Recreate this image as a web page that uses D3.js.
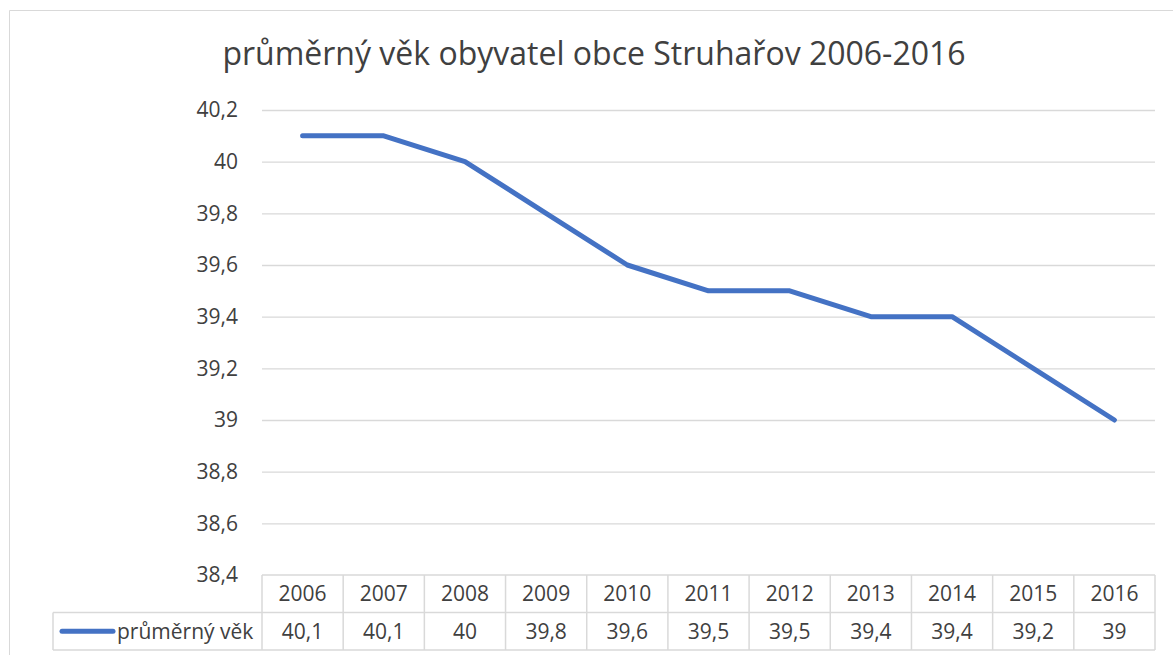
<!DOCTYPE html>
<html>
<head>
<meta charset="utf-8">
<script src="https://cdn.jsdelivr.net/npm/d3@7"></script>
<style>
  body { margin: 0; background: #fff; }
  svg { display: block; }
</style>
</head>
<body>
<div id="chart"></div>
<script>
// data
var years = ["2006", "2007", "2008", "2009", "2010", "2011", "2012", "2013", "2014", "2015", "2016"];
var avgAge = [40.1, 40.1, 40, 39.8, 39.6, 39.5, 39.5, 39.4, 39.4, 39.2, 39];
var yTicks = [38.4, 38.6, 38.8, 39, 39.2, 39.4, 39.6, 39.8, 40, 40.2];
var seriesName = "průměrný věk";
var title = "průměrný věk obyvatel obce Struhařov 2006-2016";

var width = 1173, height = 655;
var font = "'Open Sans', 'Noto Sans', sans-serif";
var textColor = "#404040";
var gridColor = "#d9d9d9";
var lineColor = "#4472c4";
var labelSize = "21px";

var plot = { left: 262, right: 1155, top: 110, bottom: 575 };
var rowH = 37.5;
var legendLeft = 53;

var cz = d3.formatLocale({ decimal: ",", thousands: " ", grouping: [3], currency: ["", " Kč"] });
var fmt = function(v) { return cz.format("~g")(+v.toFixed(1)); };

var svg = d3.select("#chart").append("svg")
    .attr("width", width)
    .attr("height", height)
    .style("font-family", font);

// chart area border (cropped at right and bottom in the reference)
svg.append("path")
    .attr("d", "M9.5," + (height + 1) + "V10.5H" + (width + 1))
    .attr("fill", "none")
    .attr("stroke", gridColor)
    .attr("stroke-width", 1);

svg.append("text")
    .attr("x", 594)
    .attr("y", 65)
    .attr("text-anchor", "middle")
    .attr("font-size", "32px")
    .attr("fill", textColor)
    .text(title);

var x = d3.scaleBand().domain(years).range([plot.left, plot.right]);
var y = d3.scaleLinear().domain([38.4, 40.2]).range([plot.bottom, plot.top]);

// gridlines + y labels
var yAxis = svg.append("g")
    .attr("transform", "translate(" + plot.left + ",0)")
    .call(d3.axisLeft(y).tickValues(yTicks).tickSize(-(plot.right - plot.left)).tickPadding(24).tickFormat(fmt));
yAxis.select(".domain").remove();
yAxis.selectAll(".tick line").attr("stroke", gridColor).attr("stroke-width", 1.3);
yAxis.selectAll(".tick text")
    .attr("fill", textColor)
    .attr("font-size", labelSize)
    .attr("font-family", font);
// bottom gridline is covered by the table top border
yAxis.selectAll(".tick").filter(function(d) { return d === 38.4; }).select("line").remove();

// series line
var line = d3.line()
    .x(function(d, i) { return x(years[i]) + x.bandwidth() / 2; })
    .y(function(d) { return y(d); });

svg.append("path")
    .datum(avgAge)
    .attr("d", line)
    .attr("fill", "none")
    .attr("stroke", lineColor)
    .attr("stroke-width", 5)
    .attr("stroke-linecap", "round")
    .attr("stroke-linejoin", "round");

// data table
var table = svg.append("g");
var row1 = plot.bottom, row2 = plot.bottom + rowH, row3 = plot.bottom + 2 * rowH;

table.selectAll(".vline")
    .data(years.concat(["end"]))
    .enter().append("line")
    .attr("x1", function(d) { return d === "end" ? plot.right : x(d); })
    .attr("x2", function(d) { return d === "end" ? plot.right : x(d); })
    .attr("y1", row1)
    .attr("y2", row3)
    .attr("stroke", gridColor)
    .attr("stroke-width", 1.5);

table.append("line").attr("x1", plot.left).attr("x2", plot.right).attr("y1", row1).attr("y2", row1)
    .attr("stroke", gridColor).attr("stroke-width", 1.5);
table.append("line").attr("x1", legendLeft).attr("x2", plot.right).attr("y1", row2).attr("y2", row2)
    .attr("stroke", gridColor).attr("stroke-width", 1.5);
table.append("line").attr("x1", legendLeft).attr("x2", plot.right).attr("y1", row3).attr("y2", row3)
    .attr("stroke", gridColor).attr("stroke-width", 1.5);
table.append("line").attr("x1", legendLeft).attr("x2", legendLeft).attr("y1", row2).attr("y2", row3)
    .attr("stroke", gridColor).attr("stroke-width", 1.5);

table.selectAll(".year")
    .data(years)
    .enter().append("text")
    .attr("x", function(d) { return x(d) + x.bandwidth() / 2; })
    .attr("y", row1 + rowH / 2)
    .attr("dy", "0.35em")
    .attr("text-anchor", "middle")
    .attr("font-size", labelSize)
    .attr("fill", textColor)
    .text(function(d) { return d; });

table.selectAll(".val")
    .data(avgAge)
    .enter().append("text")
    .attr("x", function(d, i) { return x(years[i]) + x.bandwidth() / 2; })
    .attr("y", row2 + rowH / 2)
    .attr("dy", "0.35em")
    .attr("text-anchor", "middle")
    .attr("font-size", labelSize)
    .attr("fill", textColor)
    .text(fmt);

// legend key inside the table
table.append("line")
    .attr("x1", 62).attr("x2", 113)
    .attr("y1", row2 + rowH / 2).attr("y2", row2 + rowH / 2)
    .attr("stroke", lineColor)
    .attr("stroke-width", 5)
    .attr("stroke-linecap", "round");

table.append("text")
    .attr("x", 117)
    .attr("y", row2 + rowH / 2)
    .attr("dy", "0.35em")
    .attr("font-size", labelSize)
    .attr("fill", textColor)
    .text(seriesName);
</script>
</body>
</html>
